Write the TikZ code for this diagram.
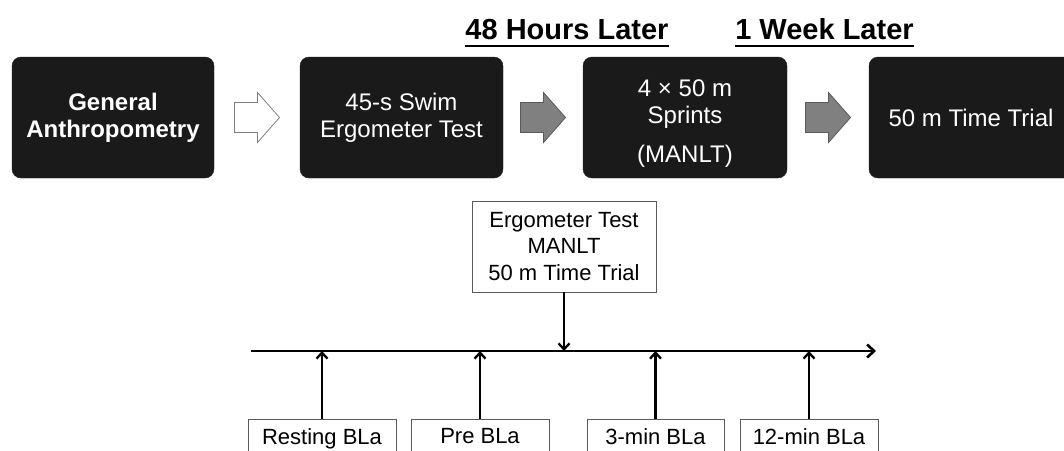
\documentclass[tikz,border=0pt]{standalone}
\usepackage{fontspec}
\setmainfont{Liberation Sans}
\usetikzlibrary{arrows.meta,calc,positioning}
\definecolor{boxblack}{HTML}{1A1A1A}
\definecolor{arrowgrey}{HTML}{808080}
\definecolor{edgegrey}{HTML}{5A5A5A}
\begin{document}
\begin{tikzpicture}[
    x=1pt,
    y=-1pt,
    stage/.style={fill=boxblack, draw=boxblack, rounded corners=9pt, text=white,
      minimum width=203pt, minimum height=121pt, align=center, inner sep=0pt,
      font=\fontsize{24}{27}\selectfont},
    heading/.style={font=\fontsize{29}{32}\selectfont\bfseries, anchor=base, inner sep=0pt},
    sample/.style={draw=edgegrey, line width=0.8pt, align=center, fill=white,
      font=\fontsize{22}{26.5}\selectfont},
    hollow/.style={fill=white, draw=gray, line width=0.8pt},
    shaded/.style={fill=arrowgrey, draw=edgegrey, line width=0.8pt},
    pointer/.style={-{Straight Barb[length=6pt,width=11pt]}, line width=2.3pt}]

    \useasboundingbox (0,0) rectangle (1064,450);
    \clip (0,0) rectangle (1064,450);

    % Stages
    \node[stage, minimum width=202pt, font=\fontsize{24}{27}\selectfont\bfseries]
         (anthro) at (113,117.5) {General\\Anthropometry};
    \node[stage] (ergo) at (401.5,117.5) {45-s Swim\\Ergometer Test};
    \node[stage, minimum width=204pt] (sprints) at (685,117.5)
         {\rule{0pt}{29pt}4 × 50 m\\Sprints\\[12pt](MANLT)};
    \node[stage, minimum width=204pt] (trial) at (971,117.5) {50 m Time Trial};

    % Block arrows between stages
    \foreach \a/\b/\s in {anthro/ergo/hollow, ergo/sprints/shaded, sprints/trial/shaded} {
      \draw[\s] ($(\a.east)!0.5!(\b.west)$) ++(-22.5,15) -- ++(23,0) -- ++(0,10)
                -- ++(22,-25) -- ++(-22,-25) -- ++(0,10) -- ++(-23,0) -- cycle;
    }

    % Headings
    \node[heading] (h48) at (567,39) {48 Hours Later};
    \node[heading] (h1w) at (824.5,39) {1 Week Later};
    \foreach \h in {h48,h1w} {
      \draw[line width=2.5pt] ([yshift=-7pt]\h.base west) -- ([yshift=-7pt]\h.base east);
    }

    % Timeline
    \coordinate (t0) at (251,351);
    \coordinate (t1) at (876,351);
    \draw[line width=2.6pt, -{Straight Barb[length=7pt,width=13pt]}] (t0) -- (t1);

    % Tests
    \node[sample, minimum width=184pt, minimum height=91pt, inner sep=0pt]
         (tests) at (564,246.5) {Ergometer Test\\MANLT\\50 m Time Trial};
    \draw[pointer] (tests) -- (tests |- t0);

    % Blood lactate samples
    \foreach \n/\x/\w/\txt in {rest/322/148pt/Resting BLa, pre/480/138pt/Pre BLa,
                               three/655.5/137pt/3-min BLa, twelve/809/138pt/12-min BLa} {
      \node[sample, anchor=north, minimum width=\w, inner ysep=9pt] (\n) at (\x,419) {\txt};
      \draw[pointer] (\n) -- (\n |- t0);
    }
  \end{tikzpicture}
\end{document}
